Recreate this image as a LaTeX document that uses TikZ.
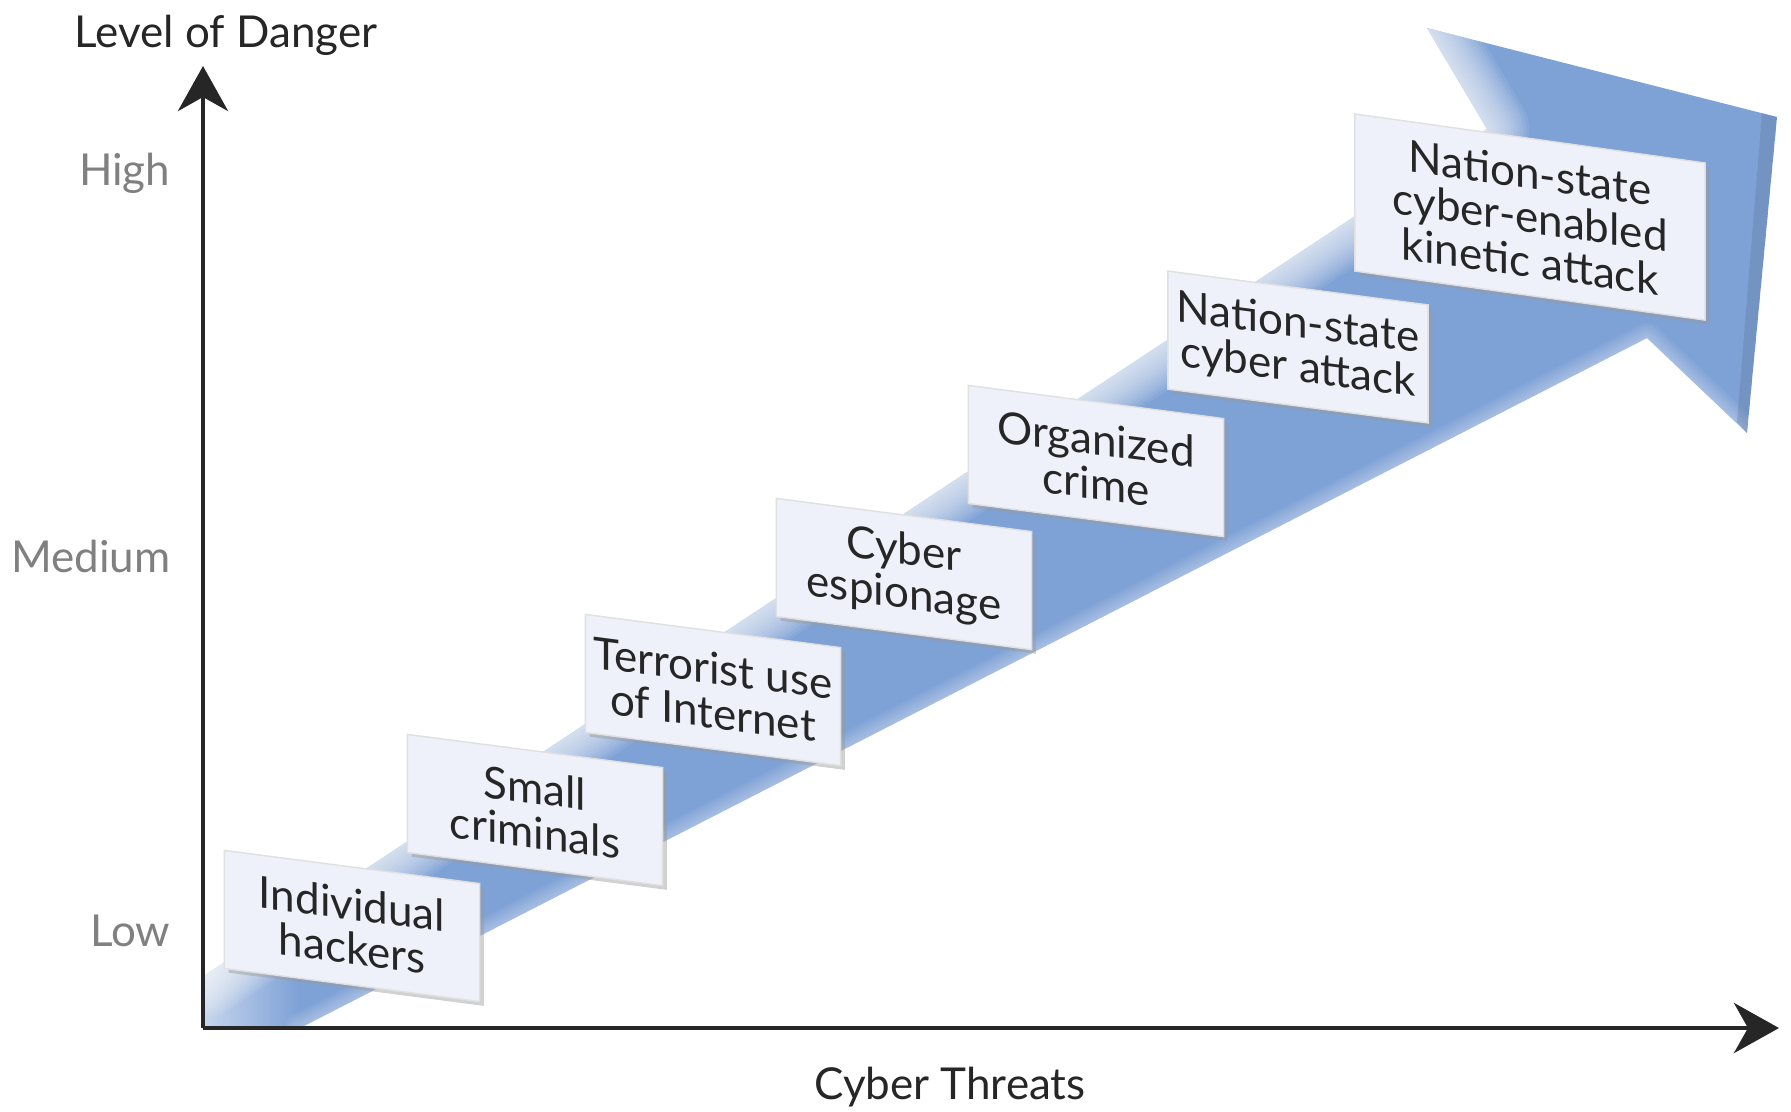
\documentclass[tikz,border=0pt]{standalone}
\usepackage{fontspec}
\setmainfont{Lato}
\usetikzlibrary{arrows.meta}
\usetikzlibrary{shadows}
\definecolor{arrowblue}{RGB}{126,161,214}
\definecolor{boxfill}{RGB}{238,240,250}
\definecolor{levelgray}{RGB}{128,128,128}
\pgfdeclarehorizontalshading{threatfade}{100bp}{color(0bp)=(arrowblue!45); color(25bp)=(arrowblue!45); color(28bp)=(arrowblue); color(100bp)=(arrowblue)}
\tikzset{
  threat/.style={draw=black!12, fill=boxfill, yslant=#1, transform shape,
    minimum width=2.55cm, minimum height=1.18cm, inner sep=0pt, align=center,
    text=black!85, font=\fontsize{12.5}{12.6}\selectfont,
    drop shadow={shadow xshift=1.2pt, shadow yshift=-1.2pt, fill=black!40, opacity=.45}},
  threat/.default=-0.13,
  axis/.style={line width=1.3pt, draw=black!85, -{Stealth[length=4.5mm,width=5mm,inset=1.4mm]}},
  lab/.style={text=black!85, inner sep=0pt, font=\fontsize{12.5}{14}\selectfont},
  lvl/.style={text=levelgray, inner sep=0pt, font=\fontsize{12.5}{14}\selectfont},
  glow/.style={draw=white, line cap=round, line join=round}
}
\begin{document}
\begin{tikzpicture}[x=0.01cm,y=-0.01cm]
\useasboundingbox (0,0) rectangle (1791,1111);

% the big arrow
\coordinate (a1) at (205,1028);
\coordinate (a2) at (300,1028);
\coordinate (a3) at (1647,338);
\coordinate (a4) at (1747,433);
\coordinate (a5) at (1777,117);
\coordinate (a6) at (1427,28);
\coordinate (a7) at (1487,129);
\coordinate (a8) at (205,975);
\shade[shading=threatfade] (a1) -- (a2) -- (a3) -- (a4) -- (a5) -- (a6) -- (a7) -- (a8) -- cycle;
\begin{scope}
\clip (a1) -- (a2) -- (a3) -- (a4) -- (a5) -- (a6) -- (a7) -- (a8) -- cycle;
\foreach \i in {1,...,14}
  \draw[glow, line width=\i*0.06cm, opacity=.08] (a8) -- (a7) -- (a6);
\foreach \i in {1,...,6}
  \draw[glow, line width=\i*0.05cm, opacity=.06] (a2) -- (a3) -- (a4);
\fill[arrowblue!75!black, opacity=.35] (1762,113) -- (a5) -- (a4) -- (1737,422) -- cycle;
\end{scope}

\coordinate (o) at (203,1028);
\coordinate (yt) at (203,66);
\coordinate (xt) at (1779,1028);
\draw[axis] (o) -- (yt);
\draw[axis] (o) -- (xt);

\node[lab, anchor=base] (lv) at (226,47) {Level of Danger};
\node[lvl, anchor=base east] (hi) at (171,185) {High};
\node[lvl, anchor=base east] (md) at (171,572) {Medium};
\node[lvl, anchor=base east] (lo) at (171,946) {Low};
\node[lab, anchor=base] (ct) at (950,1099) {Cyber Threats};

\node[threat] (b1) at (352,926) {Individual\\hackers};
\node[threat] (b2) at (535,810) {Small\\criminals};
\node[threat] (b3) at (713,690) {Terrorist use\\of Internet};
\node[threat] (b4) at (904,574) {Cyber\\espionage};
\node[threat] (b5) at (1096,461) {Organized\\crime};
\node[threat, minimum width=2.6cm] (b6) at (1298,347) {Nation-state\\cyber attack};
\node[threat=-0.14, minimum width=3.5cm, minimum height=1.57cm] (b7) at (1530,217) {Nation-state\\cyber-enabled\\kinetic attack};
\end{tikzpicture}
\end{document}
